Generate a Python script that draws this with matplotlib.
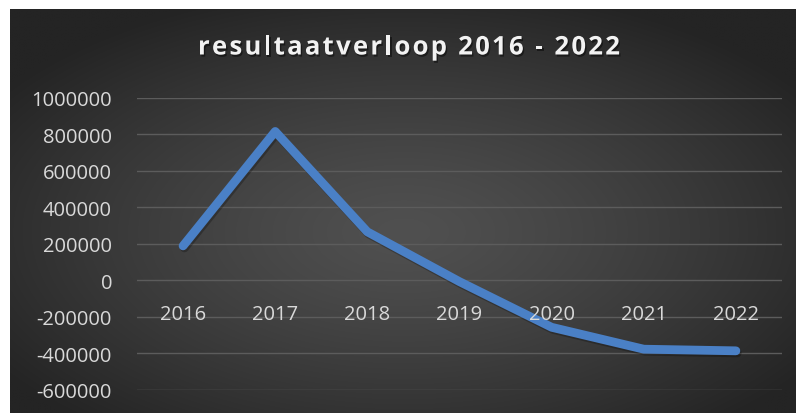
import numpy as np
import matplotlib
matplotlib.use("Agg")
import matplotlib.pyplot as plt
import matplotlib.patheffects as pe
from matplotlib.font_manager import FontProperties

years = ["2016", "2017", "2018", "2019", "2020", "2021", "2022"]
resultaat = [188000, 815000, 265000, -8000, -258000, -378000, -387000]
yticks = [-600000, -400000, -200000, 0, 200000, 400000, 600000, 800000, 1000000]
title = "resultaatverloop 2016 - 2022"

W, H = 796, 414
fig = plt.figure(figsize=(W / 100, H / 100), dpi=100)
fig.patch.set_facecolor("white")

# background panel with radial gradient
bg = fig.add_axes([10 / W, 0, (W - 10) / W, (H - 10) / H])
bg.set_axis_off()
ny, nx = 200, 400
yy, xx = np.mgrid[0:ny, 0:nx]
cx, cy = nx * 0.5, ny * 0.55
r = np.sqrt(((xx - cx) / (nx * 0.62)) ** 2 + ((yy - cy) / (ny * 0.62)) ** 2)
r = np.clip(r, 0, 1)
inner = np.array([0x50, 0x50, 0x50]) / 255
outer = np.array([0x24, 0x24, 0x24]) / 255
img = inner[None, None, :] * (1 - r[..., None] ** 1.3) + outer[None, None, :] * (r[..., None] ** 1.3)
bg.imshow(img, aspect="auto", extent=[0, 1, 0, 1], interpolation="bilinear")
bg.set_xlim(0, 1)
bg.set_ylim(0, 1)

ax = fig.add_axes([137 / W, 1 - 390.7 / H, (782 - 137) / W, (390.7 - 98.7) / H])
ax.patch.set_alpha(0)
x = np.arange(len(years))
ax.set_xlim(-0.5, len(years) - 0.5)
ax.set_ylim(-600000, 1000000)
ax.set_yticks(yticks)
ax.set_yticklabels([str(v) for v in yticks])
for s in ax.spines.values():
    s.set_visible(False)
ax.grid(axis="y", color="#5c5c5c", linewidth=1.0)
ax.set_axisbelow(True)
ax.tick_params(axis="y", length=0, pad=18, labelsize=14.5, labelcolor="#d9d9d9")
ax.set_xticks([])
for lbl in ax.get_yticklabels():
    lbl.set_fontfamily("Open Sans")

ax.plot(x, resultaat, color="#4a80c6", linewidth=6.3, solid_capstyle="round",
        solid_joinstyle="round",
        path_effects=[pe.SimpleLineShadow(offset=(1, -1.5), shadow_color="black", alpha=0.25),
                      pe.Normal()], zorder=3)

for xi, yr in zip(x, years):
    ax.annotate(yr, xy=(xi, 0), xycoords="data", xytext=(0, -24), textcoords="offset points",
                ha="center", va="center", fontsize=14.5, color="#d9d9d9",
                fontfamily="Open Sans", zorder=4)

# letter-spaced title
prop = FontProperties(family="Open Sans", weight="bold", size=18.5)
renderer = fig.canvas.get_renderer()

def text_w(s):
    t = fig.text(0, 0, s, fontproperties=prop)
    w = t.get_window_extent(renderer=renderer).width
    t.remove()
    return w

space_w = text_w("a a") - text_w("aa")
adv = [space_w if ch == " " else text_w(ch) for ch in title]
x_left, x_right = 198, 620
spacing = ((x_right - x_left) - sum(adv)) / (len(title) - 1)
cur = x_left
for ch, a in zip(title, adv):
    if ch != " ":
        fig.text(cur / W, 1 - 48 / H, ch, ha="left", va="center", fontproperties=prop,
                 color="#f2f2f2",
                 path_effects=[pe.withSimplePatchShadow(offset=(1, -1.5), shadow_rgbFace="black", alpha=0.45)])
    cur += a + spacing

fig.savefig("out.png", dpi=100, facecolor="white")
